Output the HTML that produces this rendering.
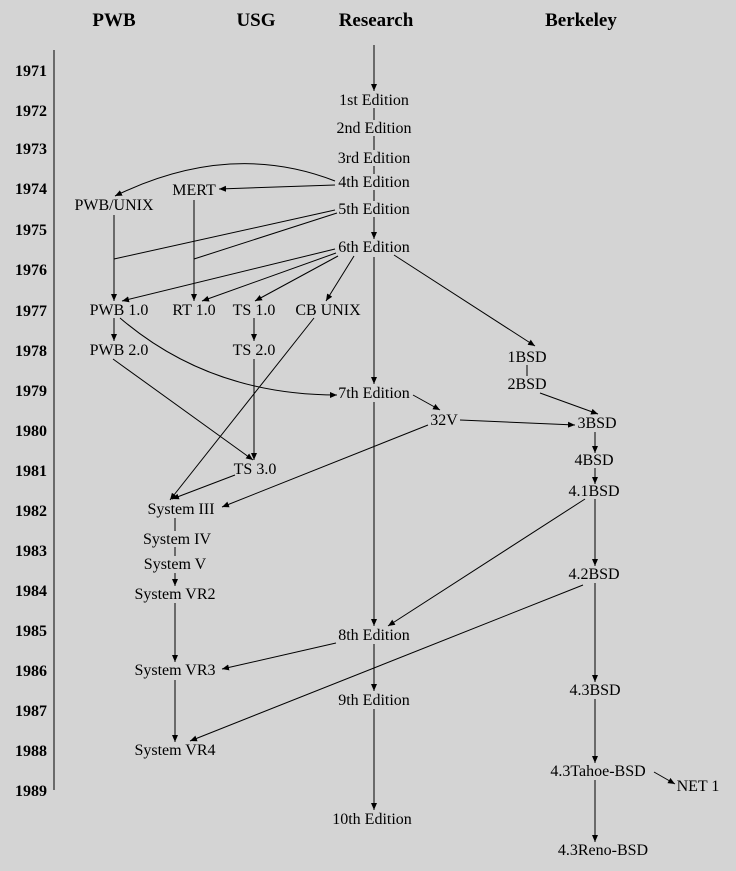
<!DOCTYPE html>
<html><head><meta charset="utf-8"><style>
html,body{margin:0;padding:0;background:#d4d4d4;}
svg{display:block;}
text{font-family:"Liberation Serif",serif;font-size:16px;fill:#000;}
.h{font-size:19px;font-weight:bold;}
.y{font-size:16px;font-weight:bold;}
line,path{stroke:#000;stroke-width:1;fill:none;}
</style></head><body>
<svg width="736" height="871" viewBox="0 0 736 871">
<defs><marker id="a" markerWidth="8" markerHeight="8" refX="7" refY="3" orient="auto" markerUnits="userSpaceOnUse"><path d="M0,0 L7,3 L0,6 z" style="fill:#000;stroke:none"/></marker></defs>
<rect width="736" height="871" fill="#d4d4d4"/>
<g text-anchor="middle">
<text class="h" x="114" y="26">PWB</text>
<text class="h" x="256" y="26">USG</text>
<text class="h" x="376" y="26">Research</text>
<text class="h" x="581" y="26">Berkeley</text>
</g>
<line x1="54" y1="50" x2="54" y2="790"/>
<g text-anchor="end">
<text class="y" x="47" y="76">1971</text><text class="y" x="47" y="116">1972</text><text class="y" x="47" y="154">1973</text>
<text class="y" x="47" y="194">1974</text><text class="y" x="47" y="235">1975</text><text class="y" x="47" y="275">1976</text>
<text class="y" x="47" y="316">1977</text><text class="y" x="47" y="356">1978</text><text class="y" x="47" y="396">1979</text>
<text class="y" x="47" y="436">1980</text><text class="y" x="47" y="476">1981</text><text class="y" x="47" y="516">1982</text>
<text class="y" x="47" y="556">1983</text><text class="y" x="47" y="596">1984</text><text class="y" x="47" y="636">1985</text>
<text class="y" x="47" y="676">1986</text><text class="y" x="47" y="716">1987</text><text class="y" x="47" y="756">1988</text>
<text class="y" x="47" y="796">1989</text>
</g>
<g marker-end="url(#a)">
<line x1="374" y1="45" x2="374" y2="91"/>
<line x1="374" y1="217" x2="374" y2="239"/>
<path d="M335,181 Q230,140 115,196"/>
<line x1="335" y1="185" x2="219" y2="189"/>
<line x1="114" y1="215" x2="114" y2="301"/>
<line x1="194" y1="200" x2="194" y2="301"/>
<line x1="335" y1="249" x2="122" y2="301"/>
<line x1="336" y1="253" x2="202" y2="301"/>
<line x1="338" y1="256" x2="255" y2="301"/>
<line x1="354" y1="256" x2="326" y2="301"/>
<line x1="374" y1="257" x2="374" y2="384"/>
<line x1="394" y1="255" x2="535" y2="346"/>
<line x1="114" y1="318" x2="114" y2="341"/>
<path d="M120,318 Q210,395 337,395"/>
<line x1="254" y1="318" x2="254" y2="341"/>
<line x1="113" y1="359" x2="253" y2="460"/>
<line x1="254" y1="359" x2="254" y2="460"/>
<line x1="314" y1="318" x2="170" y2="500"/>
<line x1="413" y1="395" x2="440" y2="410"/>
<line x1="374" y1="402" x2="374" y2="626"/>
<line x1="540" y1="393" x2="598" y2="414"/>
<line x1="460" y1="420" x2="575" y2="425"/>
<line x1="428" y1="425" x2="222" y2="507"/>
<line x1="235" y1="475" x2="172" y2="499"/>
<line x1="595" y1="432" x2="595" y2="453"/>
<line x1="595" y1="468" x2="595" y2="484"/>
<line x1="595" y1="499" x2="595" y2="566"/>
<line x1="585" y1="499" x2="388" y2="626"/>
<line x1="583" y1="585" x2="190" y2="741"/>
<line x1="595" y1="583" x2="595" y2="682"/>
<line x1="175" y1="573" x2="175" y2="586"/>
<line x1="175" y1="603" x2="175" y2="662"/>
<line x1="175" y1="680" x2="175" y2="742"/>
<line x1="336" y1="643" x2="222" y2="669"/>
<line x1="374" y1="644" x2="374" y2="691"/>
<line x1="374" y1="709" x2="374" y2="810"/>
<line x1="595" y1="699" x2="595" y2="763"/>
<line x1="654" y1="772" x2="675" y2="784"/>
<line x1="595" y1="780" x2="595" y2="842"/>
</g>
<line x1="374" y1="108" x2="374" y2="120"/>
<line x1="374" y1="136" x2="374" y2="150"/>
<line x1="374" y1="166" x2="374" y2="174"/>
<line x1="374" y1="190" x2="374" y2="201"/>
<line x1="335" y1="210" x2="114" y2="259"/>
<line x1="337" y1="213" x2="194" y2="259"/>
<line x1="527" y1="365" x2="527" y2="376"/>
<line x1="175" y1="518" x2="175" y2="531"/>
<line x1="175" y1="547" x2="175" y2="556"/>
<g text-anchor="middle">
<text x="374" y="105">1st Edition</text>
<text x="374" y="133">2nd Edition</text>
<text x="374" y="163">3rd Edition</text>
<text x="374" y="187">4th Edition</text>
<text x="374" y="214">5th Edition</text>
<text x="374" y="252">6th Edition</text>
<text x="374" y="398">7th Edition</text>
<text x="374" y="640">8th Edition</text>
<text x="374" y="705">9th Edition</text>
<text x="372" y="824">10th Edition</text>
<text x="114" y="210">PWB/UNIX</text>
<text x="194" y="195">MERT</text>
<text x="119" y="315">PWB 1.0</text>
<text x="194" y="315">RT 1.0</text>
<text x="254" y="315">TS 1.0</text>
<text x="328" y="315">CB UNIX</text>
<text x="119" y="355">PWB 2.0</text>
<text x="254" y="355">TS 2.0</text>
<text x="444" y="425">32V</text>
<text x="255" y="474">TS 3.0</text>
<text x="181" y="514">System III</text>
<text x="177" y="544">System IV</text>
<text x="175" y="569">System V</text>
<text x="175" y="599">System VR2</text>
<text x="175" y="675">System VR3</text>
<text x="175" y="755">System VR4</text>
<text x="527" y="362">1BSD</text>
<text x="527" y="389">2BSD</text>
<text x="597" y="428">3BSD</text>
<text x="594" y="465">4BSD</text>
<text x="594" y="496">4.1BSD</text>
<text x="594" y="579">4.2BSD</text>
<text x="595" y="695">4.3BSD</text>
<text x="598" y="776">4.3Tahoe-BSD</text>
<text x="698" y="791">NET 1</text>
<text x="603" y="855">4.3Reno-BSD</text>
</g>
</svg>
</body></html>
